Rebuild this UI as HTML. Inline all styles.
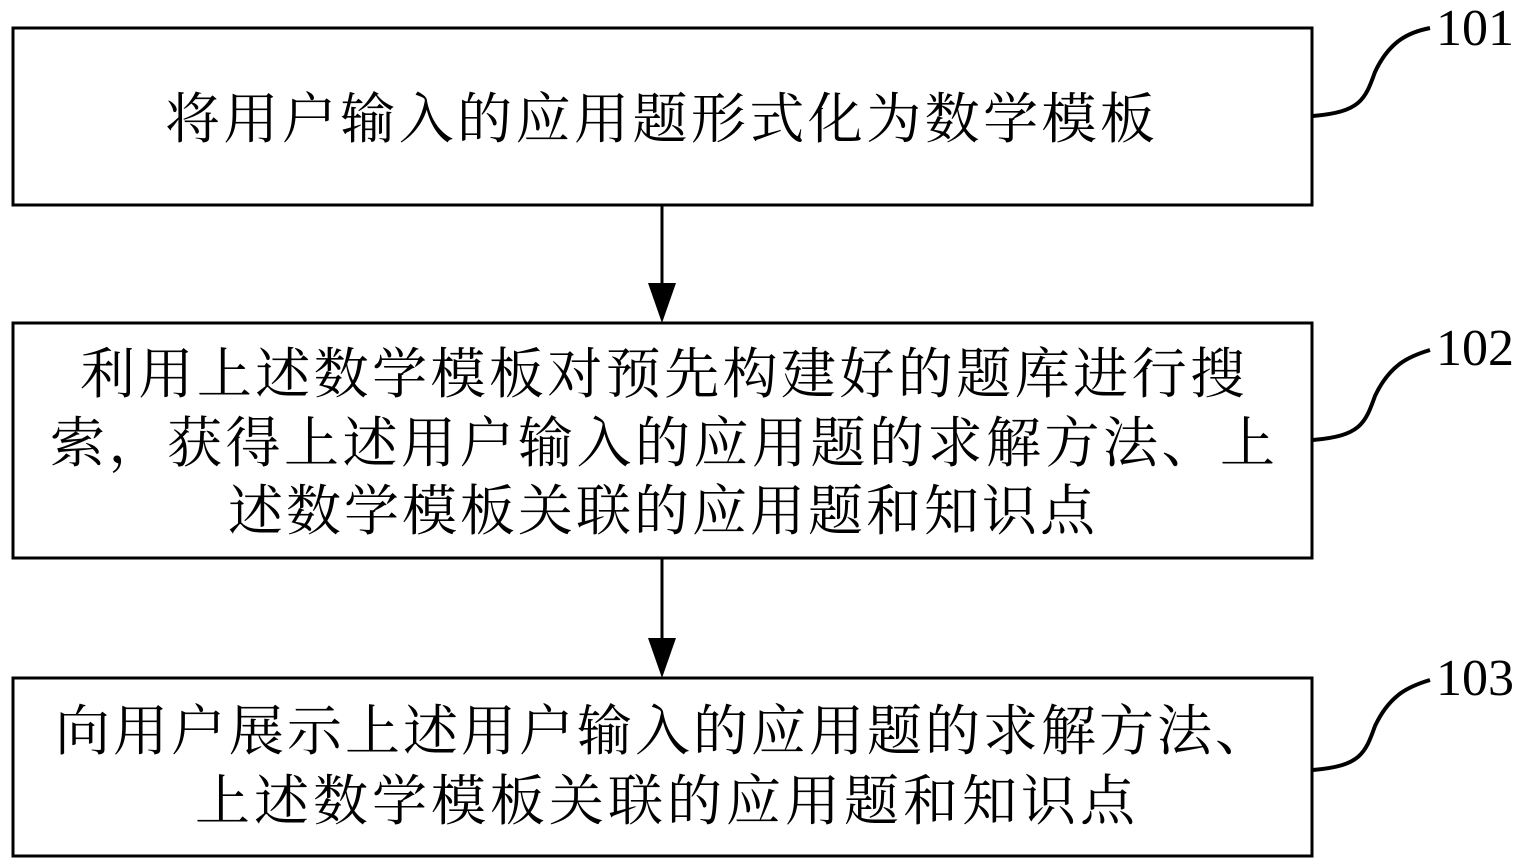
<!DOCTYPE html>
<html><head><meta charset="utf-8"><style>
html,body{margin:0;padding:0;background:#fff;}
svg{display:block;}
.t{font-family:"Liberation Serif","Noto Serif CJK SC",serif;font-size:55px;fill:#000;}
.n{font-family:"Liberation Serif",serif;font-size:52px;fill:#000;}
</style></head><body>
<svg width="1525" height="864" viewBox="0 0 1525 864" xmlns="http://www.w3.org/2000/svg">
<g fill="none" stroke="#000" stroke-width="3">
<rect x="13" y="28" width="1299" height="177"/>
<rect x="13" y="323" width="1299" height="235"/>
<rect x="13" y="678" width="1299" height="178"/>
<line x1="662" y1="205" x2="662" y2="290"/>
<line x1="662" y1="558" x2="662" y2="645"/>
<path d="M1313 116 C1360 112 1365 100 1375 72 C1390 40 1410 32 1430 28" stroke-width="4"/>
<path d="M1313 440 C1360 436 1365 424 1375 396 C1390 364 1410 356 1430 350" stroke-width="4"/>
<path d="M1313 770 C1360 766 1365 754 1375 726 C1390 694 1410 686 1430 680" stroke-width="4"/>
</g>
<polygon points="648,283 676,283 662,323" fill="#000"/>
<polygon points="648,638 676,638 662,678" fill="#000"/>
<text class="t" x="165" y="138" textLength="990" lengthAdjust="spacing">将用户输入的应用题形式化为数学模板</text>
<text class="t" x="80" y="393" textLength="1165" lengthAdjust="spacing">利用上述数学模板对预先构建好的题库进行搜</text>
<text class="t" x="50" y="462" textLength="1225" lengthAdjust="spacing">索，获得上述用户输入的应用题的求解方法、上</text>
<text class="t" x="228" y="530" textLength="867" lengthAdjust="spacing">述数学模板关联的应用题和知识点</text>
<text class="t" x="55" y="750" textLength="1215" lengthAdjust="spacing">向用户展示上述用户输入的应用题的求解方法、</text>
<text class="t" x="195" y="820" textLength="940" lengthAdjust="spacing">上述数学模板关联的应用题和知识点</text>
<text class="n" x="1436" y="45">101</text>
<text class="n" x="1436" y="365">102</text>
<text class="n" x="1436" y="695">103</text>
</svg>
</body></html>
